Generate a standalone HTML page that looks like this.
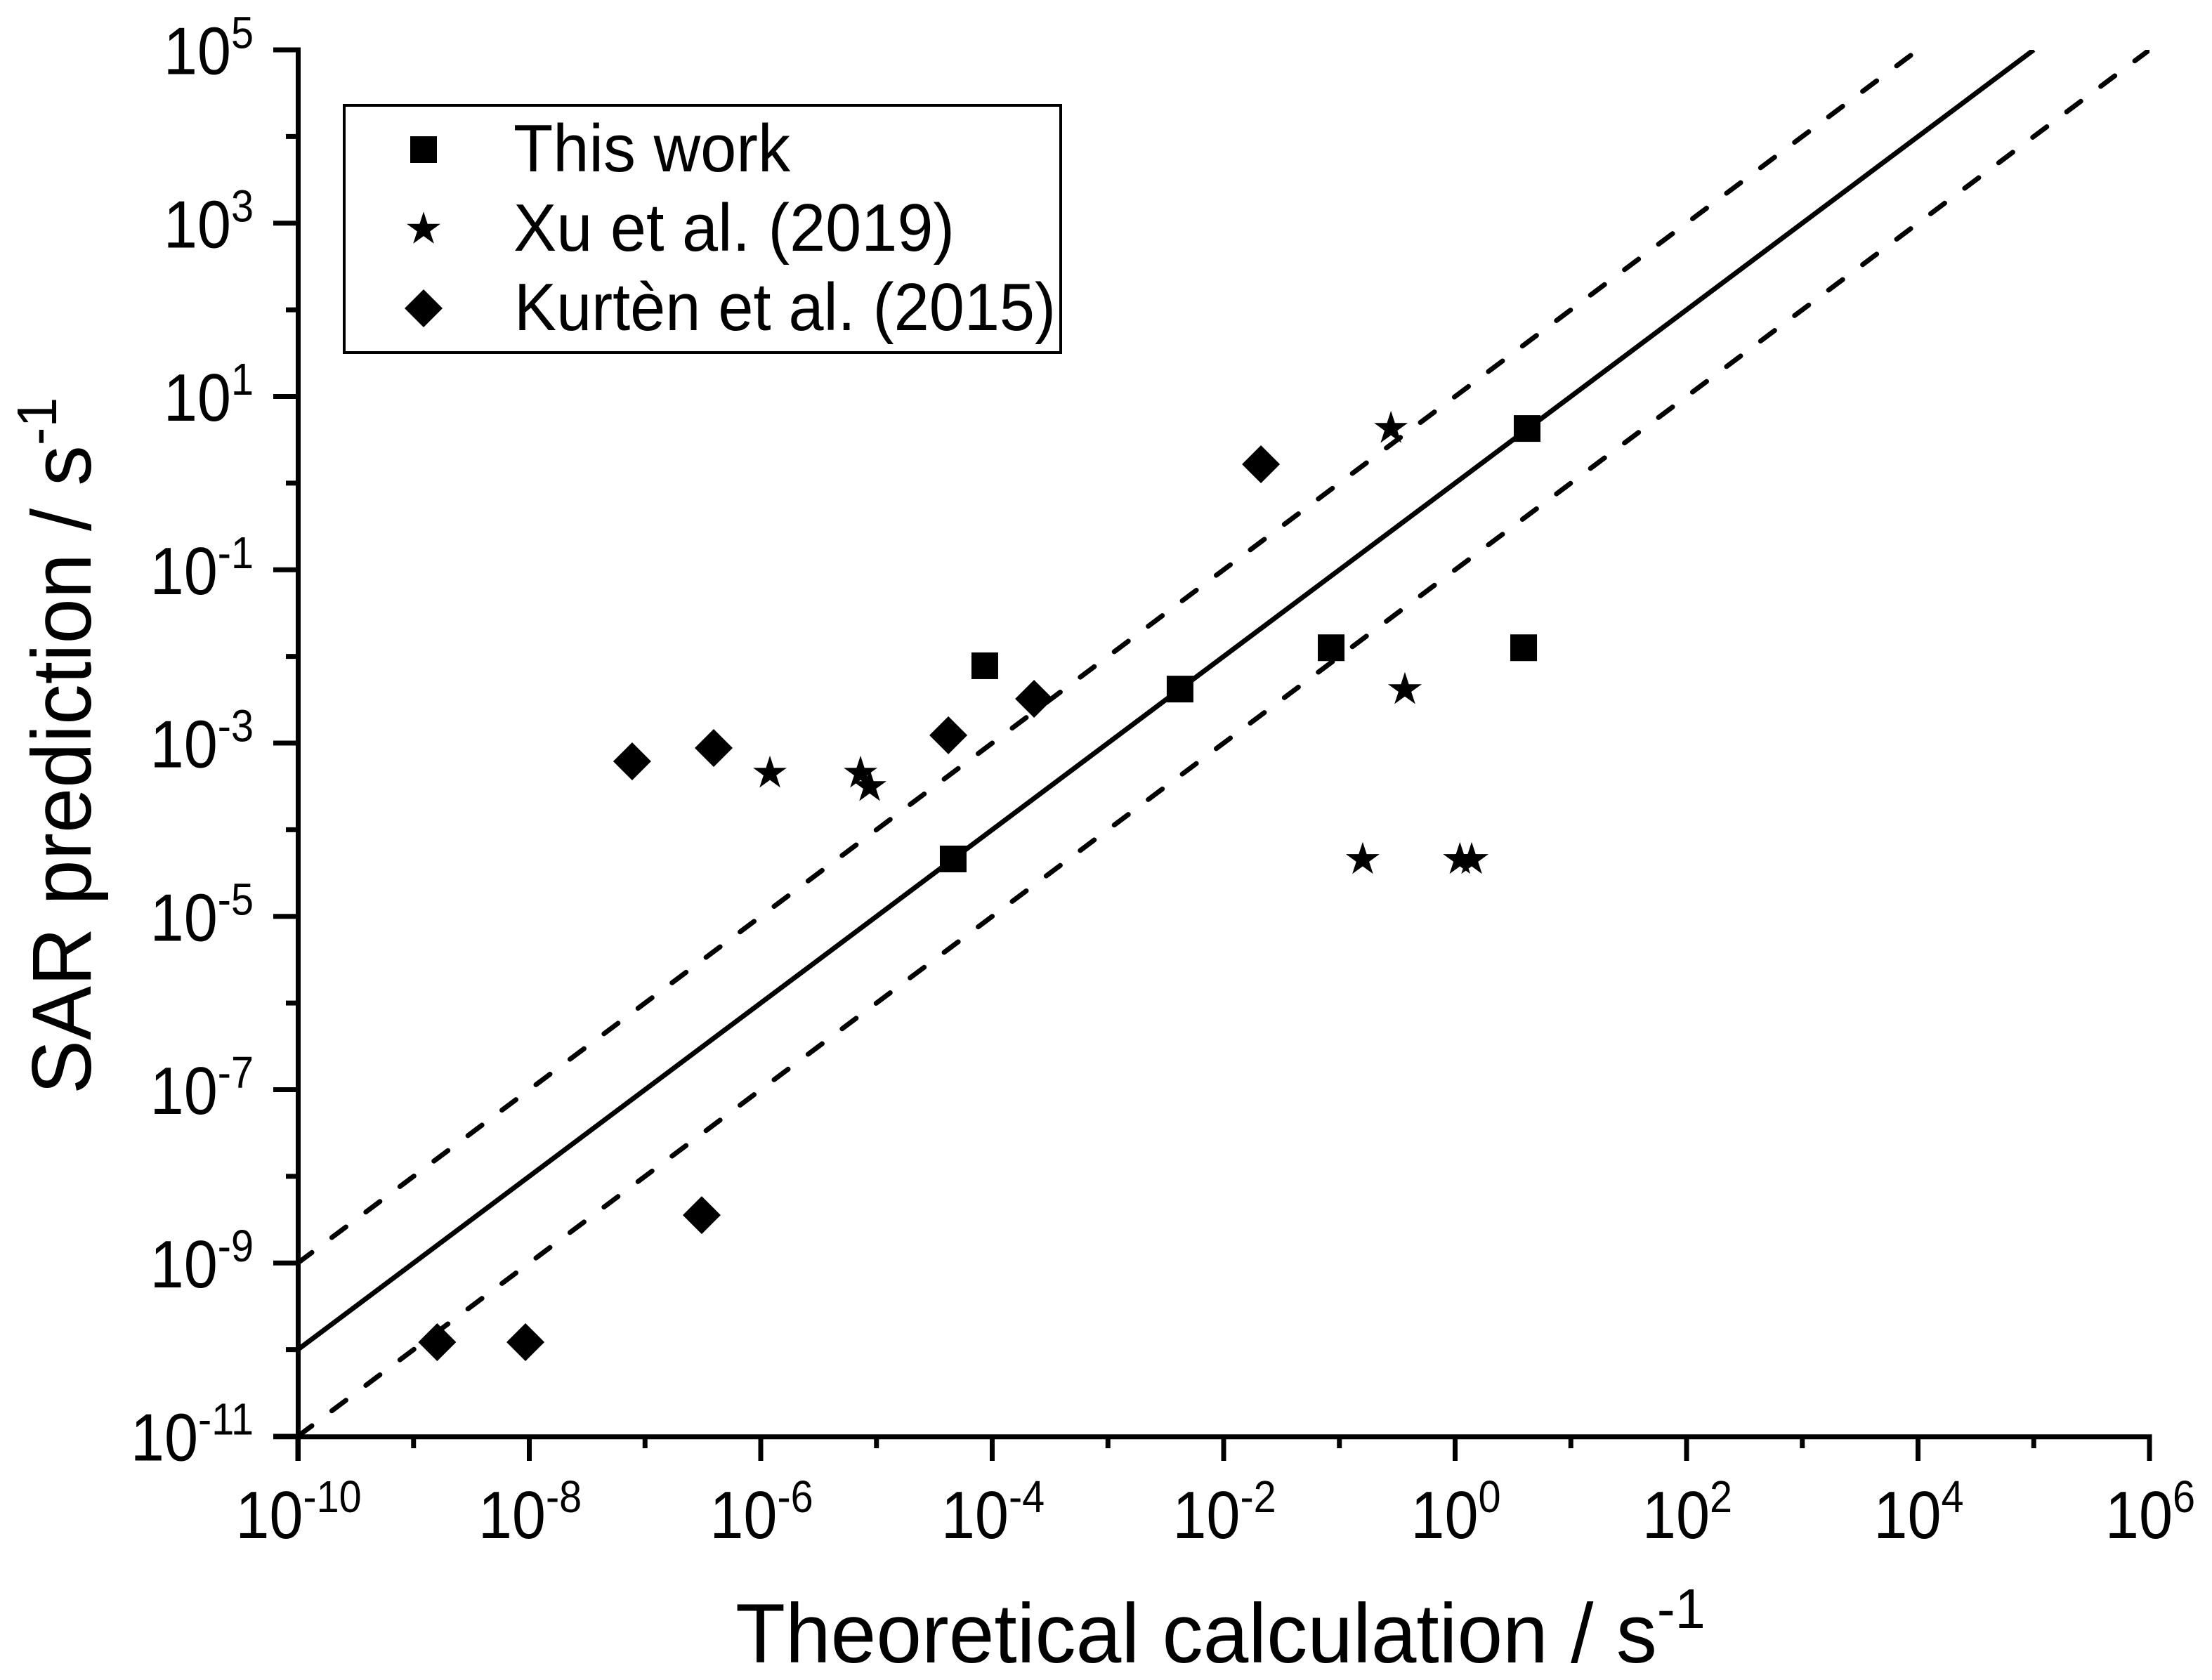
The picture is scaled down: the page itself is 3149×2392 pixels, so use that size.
<!DOCTYPE html>
<html lang="en">
<head>
<meta charset="utf-8">
<title>SAR prediction vs theoretical calculation</title>
<style>
html,body{margin:0;padding:0;background:#fff;}
svg{display:block;}
text{font-family:"Liberation Sans",Arial,sans-serif;fill:#000;}
</style>
</head>
<body>
<svg id="chart" xmlns="http://www.w3.org/2000/svg" width="3149" height="2392" viewBox="0 0 3149 2392">
  <rect x="0" y="0" width="3149" height="2392" fill="#fff"/>
  <defs>
    <clipPath id="plot-clip"><rect x="424" y="71" width="2636" height="1974"/></clipPath>
  </defs>
  <g id="lines" clip-path="url(#plot-clip)"></g>
  <g id="axes"></g>
  <g id="marks"></g>

  <text transform="translate(1047,2367) scale(0.969,1)" font-size="120">Theoretical calculation / s<tspan dy="-49" font-size="80">-1</tspan></text>
  <text transform="translate(129,1558) rotate(-90) scale(0.962,1)" font-size="120">SAR prediction / s<tspan dy="-49" font-size="80">-1</tspan></text>

  <g>
    <rect x="490" y="150" width="1020" height="352" fill="#fff" stroke="#000" stroke-width="4"/>
    <rect x="584" y="194" width="38" height="38" fill="#000"/>
    <text x="731" y="244" font-size="96" textLength="394" lengthAdjust="spacingAndGlyphs">This work</text>
    <polygon id="legend-star" fill="#000"/>
    <text x="731" y="357" font-size="96" textLength="628" lengthAdjust="spacingAndGlyphs">Xu et al. (2019)</text>
    <polygon points="603,412 630,439 603,466 576,439" fill="#000"/>
    <text x="732" y="470" font-size="96" textLength="771" lengthAdjust="spacingAndGlyphs">Kurtèn et al. (2015)</text>
  </g>
</svg>
<script>
// Axis ranges (log10 decades)
const xDomain = [-10, 6];
const yDomain = [-11, 5];
const xTickExponents = [-10, -8, -6, -4, -2, 0, 2, 4, 6];
const xMinorExponents = [-9, -7, -5, -3, -1, 1, 3, 5];
const yTickExponents = [-11, -9, -7, -5, -3, -1, 1, 3, 5];
const yMinorExponents = [-10, -8, -6, -4, -2, 0, 2, 4];

// Reference lines: offset in decades from y = x
const lineOffsets = [0, 1, -1];

// This work
const squareX = [4.60e-5, 8.63e-5, 4.2e-3, 8.49e-2, 3.91, 4.19];
const squareY = [4.60e-5, 7.80e-3, 4.2e-3, 1.26e-2, 1.26e-2, 4.27];

// Xu et al. (2019)
const starX = [1.20e-6, 7.28e-6, 8.73e-6, 0.159, 1.10, 1.39, 0.368, 0.279];
const starY = [4.48e-4, 4.48e-4, 3.14e-4, 4.52e-5, 4.52e-5, 4.52e-5, 4.13e-3, 4.27];

// Kurten et al. (2015)
const diamondX = [7.74e-8, 3.92e-7, 4.18e-5, 2.30e-4, 3.09e-7, 2.10e-2, 1.60e-9, 9.27e-9];
const diamondY = [6.15e-4, 8.77e-4, 1.23e-3, 3.24e-3, 3.57e-9, 1.65, 1.22e-10, 1.22e-10];

const NS = 'http://www.w3.org/2000/svg';
const plotLeft = 424, plotRight = 3060, plotTop = 71, plotBottom = 2045;
const labelSqueeze = 0.9;

function xDec(d) { return plotLeft + (d - xDomain[0]) / (xDomain[1] - xDomain[0]) * (plotRight - plotLeft); }
function yDec(d) { return plotBottom - (d - yDomain[0]) / (yDomain[1] - yDomain[0]) * (plotBottom - plotTop); }
function xScale(v) { return xDec(Math.log10(v)); }
function yScale(v) { return yDec(Math.log10(v)); }

function make(tag, attrs, parent) {
  const el = document.createElementNS(NS, tag);
  for (const k in attrs) el.setAttribute(k, attrs[k]);
  parent.appendChild(el);
  return el;
}
function starPoints(cx, cy) {
  const R = 25.2, r = R * 0.382, pts = [];
  for (let i = 0; i < 10; i++) {
    const rad = i % 2 === 0 ? R : r;
    const a = -Math.PI / 2 + i * Math.PI / 5;
    pts.push((cx + rad * Math.cos(a)).toFixed(2) + ',' + (cy + rad * Math.sin(a)).toFixed(2));
  }
  return pts.join(' ');
}

document.getElementById('legend-star').setAttribute('points', starPoints(603, 326.5));

const linesG = document.getElementById('lines');
lineOffsets.forEach(function (off) {
  const x0 = Math.max(xDomain[0], yDomain[0] - off);
  const x1 = Math.min(xDomain[1], yDomain[1] - off);
  const ln = make('line', {
    x1: xDec(x0), y1: yDec(x0 + off), x2: xDec(x1), y2: yDec(x1 + off),
    stroke: '#000', 'stroke-width': 7
  }, linesG);
  if (off !== 0) {
    ln.setAttribute('stroke-dasharray', '25 35.5');
    ln.setAttribute('stroke-linecap', 'round');
  }
  
  
});

const axesG = document.getElementById('axes');
const leftAxis = make('line', { x1: 424.5, y1: plotTop - 3.5, x2: 424.5, y2: plotBottom + 35, stroke: '#000', 'stroke-width': 7 }, axesG);


const bottomAxis = make('line', { x1: 389, y1: 2045.7, x2: plotRight + 3.5, y2: 2045.7, stroke: '#000', 'stroke-width': 7 }, axesG);



xTickExponents.forEach(function (e) {
  const x = xDec(e);
  const t = make('line', { x1: x, y1: plotBottom, x2: x, y2: 2080, stroke: '#000', 'stroke-width': 7 }, axesG);
  
  
  const label = make('text', { transform: 'translate(' + (x + 1) + ',2190) scale(' + labelSqueeze + ',1)', 'font-size': 96, 'text-anchor': 'middle' }, axesG);
  
  
  label.appendChild(document.createTextNode('10'));
  const sup = make('tspan', { dy: -37, 'font-size': 64 }, label);
  sup.textContent = String(e);
});
xMinorExponents.forEach(function (e) {
  const x = xDec(e);
  const t = make('line', { x1: x, y1: plotBottom, x2: x, y2: 2062, stroke: '#000', 'stroke-width': 7 }, axesG);
  
  
});
yTickExponents.forEach(function (e) {
  const y = yDec(e);
  const t = make('line', { x1: 389, y1: y, x2: 424, y2: y, stroke: '#000', 'stroke-width': 7 }, axesG);
  
  
  const label = make('text', { transform: 'translate(361,' + (y + 34.5) + ') scale(' + labelSqueeze + ',1)', 'font-size': 96, 'text-anchor': 'end' }, axesG);
  
  
  label.appendChild(document.createTextNode('10'));
  const sup = make('tspan', { dy: -37, 'font-size': 64 }, label);
  sup.textContent = String(e);
});
yMinorExponents.forEach(function (e) {
  const y = yDec(e);
  const t = make('line', { x1: 407, y1: y, x2: 424, y2: y, stroke: '#000', 'stroke-width': 7 }, axesG);
  
  
});

const marksG = document.getElementById('marks');
squareX.forEach(function (v, i) {
  const cx = xScale(v), cy = yScale(squareY[i]);
  const m = make('rect', { x: cx - 19, y: cy - 19, width: 38, height: 38, fill: '#000' }, marksG);
  
  
});
starX.forEach(function (v, i) {
  const m = make('polygon', { points: starPoints(xScale(v), yScale(starY[i])), fill: '#000' }, marksG);
  
  
});
diamondX.forEach(function (v, i) {
  const cx = xScale(v), cy = yScale(diamondY[i]);
  const pts = [cx + ',' + (cy - 27), (cx + 27) + ',' + cy, cx + ',' + (cy + 27), (cx - 27) + ',' + cy].join(' ');
  const m = make('polygon', { points: pts, fill: '#000' }, marksG);
  
  
});
</script>
</body>
</html>
